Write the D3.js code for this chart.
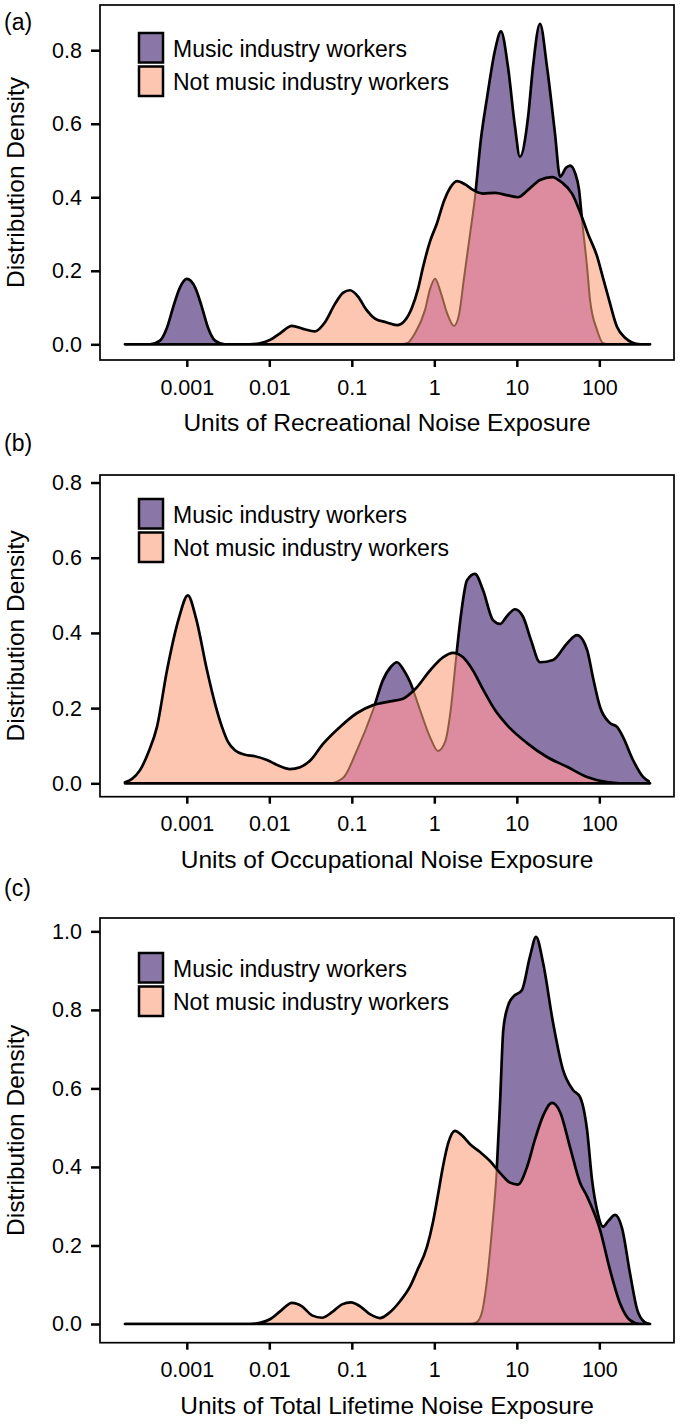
<!DOCTYPE html>
<html lang="en">
<head>
<meta charset="UTF-8">
<title>Noise exposure density</title>
<script src="https://cdn.jsdelivr.net/npm/d3@7"></script>
<style>
  body { margin: 0; background: #fff; }
  svg { display: block; }
  text { font-family: "Liberation Sans", Arial, sans-serif; fill: #000; }
  .tick text { font-size: 21.5px; }
  .tick line { stroke: #000; stroke-width: 2.5; }
  text.title { font-size: 24.5px; text-anchor: middle; }
  text.legend { font-size: 23px; }
  text.panel { font-size: 23px; }
</style>
</head>
<body>
<svg width="680" height="1424"></svg>
<script>
const seriesNames = ["Music industry workers", "Not music industry workers"];
const xTicks = [0.001, 0.01, 0.1, 1, 10, 100];
const xTickLabels = ["0.001", "0.01", "0.1", "1", "10", "100"];
const yTicksAB = [0, 0.2, 0.4, 0.6, 0.8];
const yTicksC = [0, 0.2, 0.4, 0.6, 0.8, 1.0];

// (a) recreational noise exposure
const recMusicX = [0.000178, 0.000358, 0.000473, 0.000575, 0.000681, 0.000828, 0.001, 0.00126, 0.00153, 0.00181, 0.0022, 0.0029, 0.384, 0.468, 0.583, 0.771, 0.887, 1.02, 1.2, 1.43, 1.73, 1.99, 2.29, 2.71, 3.11, 3.68, 4.35, 5.44, 6.43, 7.81, 9.5, 10.9, 13.7, 15.7, 19.1, 23.2, 29, 33.4, 39.5, 44.2, 50.8, 56.8, 61.7, 71, 77.2, 93.8, 111, 135, 412];
const recMusicY = [0, 0, 0.01, 0.045, 0.1, 0.155, 0.178, 0.155, 0.1, 0.045, 0.01, 0, 0, 0.003, 0.03, 0.093, 0.15, 0.178, 0.14, 0.084, 0.05, 0.08, 0.18, 0.30, 0.40, 0.56, 0.67, 0.80, 0.851, 0.755, 0.592, 0.51, 0.619, 0.755, 0.872, 0.755, 0.574, 0.456, 0.48, 0.486, 0.466, 0.42, 0.338, 0.211, 0.12, 0.039, 0.003, 0, 0];
const recOtherX = [0.000178, 0.00583, 0.00771, 0.0102, 0.0135, 0.0188, 0.0256, 0.0358, 0.0473, 0.0625, 0.0782, 0.095, 0.119, 0.149, 0.191, 0.26, 0.353, 0.441, 0.537, 0.634, 0.73, 0.887, 1.08, 1.31, 1.55, 1.88, 2.36, 2.94, 3.89, 5.44, 7.81, 10.3, 13.7, 19.1, 26.7, 35.3, 46.7, 58.4, 73, 93.8, 111, 128, 164, 205, 249, 312, 412];
const recOtherY = [0, 0, 0.003, 0.012, 0.03, 0.05, 0.042, 0.035, 0.06, 0.11, 0.14, 0.147, 0.13, 0.095, 0.07, 0.06, 0.052, 0.065, 0.1, 0.15, 0.21, 0.28, 0.33, 0.39, 0.425, 0.444, 0.435, 0.42, 0.41, 0.412, 0.405, 0.40, 0.42, 0.447, 0.455, 0.44, 0.41, 0.36, 0.30, 0.24, 0.18, 0.13, 0.047, 0.018, 0.005, 0, 0];

// (b) occupational noise exposure
const occMusicX = [0.000178, 0.0543, 0.0782, 0.116, 0.181, 0.239, 0.298, 0.353, 0.429, 0.507, 0.671, 0.887, 1.11, 1.35, 1.59, 1.83, 2.11, 2.49, 3.11, 3.89, 5.14, 6.25, 7.62, 9.5, 11.9, 14.9, 19.1, 27.5, 40.6, 53.7, 71, 84, 102, 135, 164, 194, 256, 339, 412];
const occMusicY = [0, 0, 0.014, 0.089, 0.195, 0.275, 0.31, 0.322, 0.30, 0.27, 0.195, 0.123, 0.086, 0.11, 0.2, 0.33, 0.45, 0.54, 0.557, 0.514, 0.434, 0.424, 0.445, 0.463, 0.443, 0.38, 0.322, 0.328, 0.372, 0.394, 0.355, 0.28, 0.203, 0.16, 0.15, 0.123, 0.062, 0.017, 0.003];
const occOtherX = [0.000178, 0.000217, 0.000271, 0.000339, 0.000435, 0.000575, 0.000804, 0.00103, 0.00129, 0.00176, 0.00221, 0.00267, 0.00316, 0.00383, 0.00507, 0.0067, 0.00937, 0.0127, 0.0178, 0.0236, 0.0311, 0.0448, 0.0719, 0.116, 0.181, 0.29, 0.418, 0.583, 0.887, 1.27, 1.69, 2.23, 2.94, 3.89, 5.44, 7.62, 13.3, 23.2, 40.6, 71, 124, 178, 412];
const occOtherY = [0.003, 0.012, 0.035, 0.08, 0.15, 0.30, 0.44, 0.50, 0.44, 0.30, 0.21, 0.15, 0.11, 0.088, 0.076, 0.072, 0.062, 0.048, 0.038, 0.043, 0.06, 0.105, 0.15, 0.187, 0.208, 0.218, 0.225, 0.25, 0.30, 0.335, 0.347, 0.335, 0.30, 0.25, 0.195, 0.155, 0.107, 0.07, 0.044, 0.017, 0.003, 0, 0];

// (c) total lifetime noise exposure
const totMusicX = [0.000178, 2.70, 3.28, 3.78, 4.35, 5.0, 5.7, 6.25, 6.86, 7.81, 9.0, 11.5, 14.4, 17.1, 20.8, 27.5, 36.3, 48, 58.4, 71, 81.6, 93.8, 111, 128, 155, 188, 235, 288, 354, 412];
const totMusicY = [0, 0, 0.005, 0.03, 0.112, 0.24, 0.39, 0.56, 0.75, 0.81, 0.833, 0.85, 0.935, 0.986, 0.92, 0.767, 0.647, 0.596, 0.578, 0.494, 0.367, 0.29, 0.248, 0.262, 0.278, 0.245, 0.13, 0.036, 0.005, 0];
const totOtherX = [0.000178, 0.00583, 0.00771, 0.0102, 0.0135, 0.0188, 0.0249, 0.0329, 0.0435, 0.0575, 0.076, 0.0977, 0.126, 0.166, 0.219, 0.29, 0.384, 0.507, 0.617, 0.816, 0.964, 1.11, 1.27, 1.47, 1.78, 2.17, 2.71, 3.58, 4.73, 6.25, 8.27, 10.3, 13.3, 16.6, 20.8, 26.7, 33.4, 44.2, 58.4, 71, 102, 135, 178, 235, 312, 412];
const totOtherY = [0, 0, 0.003, 0.012, 0.032, 0.054, 0.045, 0.022, 0.016, 0.03, 0.05, 0.055, 0.045, 0.025, 0.015, 0.03, 0.058, 0.095, 0.135, 0.197, 0.26, 0.33, 0.40, 0.46, 0.492, 0.48, 0.458, 0.438, 0.415, 0.385, 0.36, 0.355, 0.40, 0.47, 0.53, 0.563, 0.54, 0.45, 0.36, 0.325, 0.24, 0.137, 0.053, 0.01, 0, 0];

const colors = { music: "#8b77a7", other: "#fdc6b0", both: "#dd8c9f", hidden: "#8e5b40" };

const panels = [
  { label: "(a)", title: "Units of Recreational Noise Exposure", top: 5, bottom: 360,
    yDomain: [-0.0427, 0.923], yTicks: yTicksAB, labelY: 30, legendY: 32,
    musicX: recMusicX, musicY: recMusicY, otherX: recOtherX, otherY: recOtherY },
  { label: "(b)", title: "Units of Occupational Noise Exposure", top: 475, bottom: 796.7,
    yDomain: [-0.0356, 0.82], yTicks: yTicksAB, labelY: 451, legendY: 498,
    musicX: occMusicX, musicY: occMusicY, otherX: occOtherX, otherY: occOtherY },
  { label: "(c)", title: "Units of Total Lifetime Noise Exposure", top: 918, bottom: 1342.7,
    yDomain: [-0.0476, 1.034], yTicks: yTicksC, labelY: 896, legendY: 952,
    musicX: totMusicX, musicY: totMusicY, otherX: totOtherX, otherY: totOtherY }
];

const svg = d3.select("svg");
const left = 100, right = 674;
const x = d3.scaleLog().domain([Math.pow(10, -4.052), Math.pow(10, 2.905)]).range([left, right]);

panels.forEach(drawPanel);

function drawPanel(p, i) {
  const y = d3.scaleLinear().domain(p.yDomain).range([p.bottom, p.top]);
  const music = d3.zip(p.musicX, p.musicY);
  const other = d3.zip(p.otherX, p.otherY);

  const area = d3.area().x(d => x(d[0])).y0(y(0)).y1(d => y(d[1])).curve(d3.curveMonotoneX);
  const above = d3.area().x(d => x(d[0])).y0(p.top - 20).y1(d => y(d[1])).curve(d3.curveMonotoneX);

  const defs = svg.append("defs");
  defs.append("clipPath").attr("id", "inside" + i).append("path").attr("d", area(other));
  defs.append("clipPath").attr("id", "outside" + i).append("path").attr("d", above(other));

  const g = svg.append("g");
  g.append("path").attr("d", area(other)).attr("fill", colors.other);
  g.append("path").attr("d", area(music)).attr("fill", colors.music);
  // where the two overlap
  g.append("path").attr("d", area(music)).attr("fill", colors.both)
    .attr("clip-path", `url(#inside${i})`);
  g.append("path").attr("d", area(music)).attr("fill", "none")
    .attr("stroke", colors.hidden).attr("stroke-width", 2)
    .attr("clip-path", `url(#inside${i})`);
  g.append("path").attr("d", area(music)).attr("fill", "none")
    .attr("stroke", "#000").attr("stroke-width", 2.7).attr("stroke-linejoin", "round")
    .attr("clip-path", `url(#outside${i})`);
  g.append("path").attr("d", area(other)).attr("fill", "none")
    .attr("stroke", "#000").attr("stroke-width", 2.7).attr("stroke-linejoin", "round");

  // frame
  svg.append("rect").attr("x", left).attr("y", p.top)
    .attr("width", right - left).attr("height", p.bottom - p.top)
    .attr("fill", "none").attr("stroke", "#000").attr("stroke-width", 1.7);

  const xAxis = svg.append("g").attr("transform", `translate(0,${p.bottom})`)
    .call(d3.axisBottom(x).tickValues(xTicks).tickFormat((d, k) => xTickLabels[k])
      .tickSize(7).tickPadding(12.5));
  xAxis.select(".domain").remove();

  const yAxis = svg.append("g").attr("transform", `translate(${left},0)`)
    .call(d3.axisLeft(y).tickValues(p.yTicks).tickFormat(d3.format(".1f"))
      .tickSize(9).tickPadding(9));
  yAxis.select(".domain").remove();

  svg.append("text").attr("class", "title")
    .attr("x", (left + right) / 2).attr("y", p.bottom + 71).text(p.title);
  svg.append("text").attr("class", "title")
    .attr("transform", `translate(24,${(p.top + p.bottom) / 2}) rotate(-90)`)
    .text("Distribution Density");
  svg.append("text").attr("class", "panel").attr("x", 4).attr("y", p.labelY).text(p.label);

  // legend
  const lg = svg.append("g").attr("transform", `translate(139,${p.legendY})`);
  [colors.music, colors.other].forEach((c, k) => {
    lg.append("rect").attr("x", 0).attr("y", k * 33.5 + 1)
      .attr("width", 24).attr("height", 29.5)
      .attr("fill", c).attr("stroke", "#000").attr("stroke-width", 2.5);
    lg.append("text").attr("class", "legend")
      .attr("x", 34).attr("y", k * 33.5 + 24.5).text(seriesNames[k]);
  });
}
</script>
</body>
</html>
